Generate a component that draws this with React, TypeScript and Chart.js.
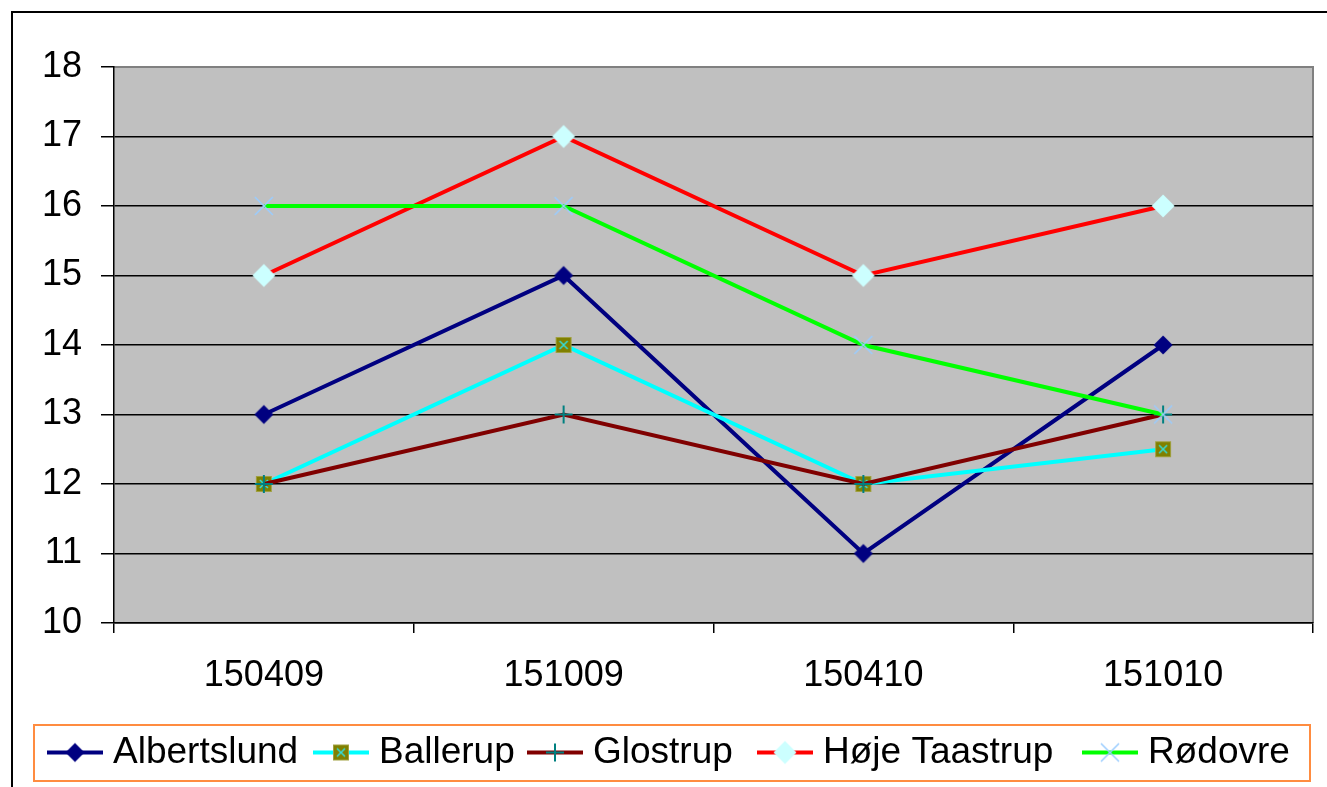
import React, { useEffect, useRef } from "react";
import { Chart, registerables } from "chart.js";

Chart.register(...registerables);

const categories = ["150409", "151009", "150410", "151010"];
const seriesNames = ["Albertslund", "Ballerup", "Glostrup", "Høje Taastrup", "Rødovre"];
const albertslund = [13, 15, 11, 14];
const ballerup = [12, 14, 12, 12.5];
const glostrup = [12, 13, 12, 13];
const hojeTaastrup = [15, 17, 15, 16];
const rodovre = [16, 16, 14, 13];
const yTicks = { min: 10, max: 18, step: 1 };

const lineColors = ["#000080", "#00FFFF", "#800000", "#FF0000", "#00FF00"];
const markerKinds = ["diamondNavy", "squareOlive", "plusTeal", "diamondLight", "xLightBlue"];
const legendStarts = [47, 313, 527, 757, 1082];

const FONT = 'Arial, "Liberation Sans", sans-serif';

function makeMarker(kind: string): HTMLCanvasElement {
  const c = document.createElement("canvas");
  c.width = 28;
  c.height = 28;
  const ctx = c.getContext("2d")!;
  const cx = 14;
  const cy = 14;
  if (kind === "diamondNavy" || kind === "diamondLight") {
    const h = kind === "diamondNavy" ? 9.5 : 11.5;
    ctx.beginPath();
    ctx.moveTo(cx, cy - h);
    ctx.lineTo(cx + h, cy);
    ctx.lineTo(cx, cy + h);
    ctx.lineTo(cx - h, cy);
    ctx.closePath();
    ctx.fillStyle = kind === "diamondNavy" ? "#000080" : "#CCFFFF";
    ctx.fill();
  } else if (kind === "squareOlive") {
    ctx.fillStyle = "#808000";
    ctx.fillRect(cx - 8, cy - 8, 16, 16);
    ctx.strokeStyle = "#A0A040";
    ctx.lineWidth = 1;
    ctx.strokeRect(cx - 7.5, cy - 7.5, 15, 15);
    ctx.strokeStyle = "#33DDDD";
    ctx.lineWidth = 1.5;
    ctx.beginPath();
    ctx.moveTo(cx - 4, cy - 4);
    ctx.lineTo(cx + 4, cy + 4);
    ctx.moveTo(cx + 4, cy - 4);
    ctx.lineTo(cx - 4, cy + 4);
    ctx.stroke();
  } else if (kind === "plusTeal") {
    ctx.strokeStyle = "#008080";
    ctx.lineWidth = 2;
    ctx.beginPath();
    ctx.moveTo(cx - 9, cy);
    ctx.lineTo(cx + 9, cy);
    ctx.moveTo(cx, cy - 9);
    ctx.lineTo(cx, cy + 9);
    ctx.stroke();
  } else if (kind === "xLightBlue") {
    ctx.strokeStyle = "#99CCFF";
    ctx.lineWidth = 1.5;
    ctx.beginPath();
    ctx.moveTo(cx - 9, cy - 9);
    ctx.lineTo(cx + 9, cy + 9);
    ctx.moveTo(cx + 9, cy - 9);
    ctx.lineTo(cx - 9, cy + 9);
    ctx.stroke();
  }
  return c;
}

export default function App() {
  const ref = useRef<HTMLCanvasElement | null>(null);

  useEffect(() => {
    if (!ref.current) return;
    const seriesValues = [albertslund, ballerup, glostrup, hojeTaastrup, rodovre];
    const markers = markerKinds.map(makeMarker);

    const framePlugin = {
      id: "excelFrame",
      beforeDraw(chart: any) {
        const { ctx, chartArea } = chart;
        ctx.save();
        ctx.fillStyle = "#FFFFFF";
        ctx.fillRect(0, 0, chart.width, chart.height);
        ctx.strokeStyle = "#000000";
        ctx.lineWidth = 2;
        ctx.beginPath();
        ctx.moveTo(12, chart.height + 2);
        ctx.lineTo(12, 12);
        ctx.lineTo(chart.width + 2, 12);
        ctx.stroke();
        ctx.fillStyle = "#C0C0C0";
        ctx.fillRect(chartArea.left, chartArea.top, chartArea.right - chartArea.left, chartArea.bottom - chartArea.top);
        ctx.strokeStyle = "#808080";
        ctx.lineWidth = 2;
        ctx.beginPath();
        ctx.moveTo(chartArea.left, chartArea.top);
        ctx.lineTo(chartArea.right, chartArea.top);
        ctx.lineTo(chartArea.right, chartArea.bottom);
        ctx.stroke();
        ctx.restore();
      },
      afterDraw(chart: any) {
        const { ctx } = chart;
        ctx.save();
        ctx.strokeStyle = "#FF8C40";
        ctx.lineWidth = 2;
        ctx.strokeRect(34, 725, 1276, 56);
        ctx.font = `37px ${FONT}`;
        ctx.textBaseline = "middle";
        ctx.textAlign = "left";
        const y = 752.5;
        seriesNames.forEach((name, i) => {
          const x = legendStarts[i];
          ctx.strokeStyle = lineColors[i];
          ctx.lineWidth = 4;
          ctx.lineCap = "butt";
          ctx.beginPath();
          ctx.moveTo(x, y);
          ctx.lineTo(x + 56, y);
          ctx.stroke();
          const m = markers[i];
          ctx.drawImage(m, x + 28 - m.width / 2, y - m.height / 2);
          ctx.fillStyle = "#000000";
          ctx.fillText(name, x + 66, y);
        });
        ctx.restore();
      },
    };

    const datasets = seriesNames.map((name, i) => ({
      label: name,
      data: seriesValues[i],
      borderColor: lineColors[i],
      backgroundColor: lineColors[i],
      borderWidth: 4,
      pointStyle: markers[i],
      pointRadius: 10,
      pointHoverRadius: 10,
      tension: 0,
      fill: false,
      order: seriesNames.length - i,
    }));

    const chart = new Chart(ref.current, {
      type: "line",
      data: { labels: categories, datasets },
      plugins: [framePlugin],
      options: {
        responsive: false,
        animation: false,
        events: [],
        layout: { padding: { left: 0, right: 14, top: 67, bottom: 0 } },
        plugins: {
          legend: { display: false },
          tooltip: { enabled: false },
          title: { display: false },
        },
        scales: {
          x: {
            offset: true,
            grid: {
              offset: true,
              drawOnChartArea: false,
              drawTicks: true,
              tickLength: 10,
              color: "#000000",
              lineWidth: 1.5,
            },
            border: { color: "#000000", width: 1.5 },
            ticks: {
              font: { family: FONT, size: 36, lineHeight: 1.2 },
              color: "#000000",
              padding: 21,
              maxRotation: 0,
              autoSkip: false,
            },
            afterFit: (s: any) => {
              s.height = 164;
            },
          },
          y: {
            min: yTicks.min,
            max: yTicks.max,
            ticks: {
              stepSize: yTicks.step,
              font: { family: FONT, size: 36 },
              color: "#000000",
              padding: 19,
            },
            grid: {
              color: (c: any) => (c.tick && c.tick.value === yTicks.max ? "#808080" : "#000000"),
              tickColor: "#000000",
              tickLength: 13,
              lineWidth: 1.5,
            },
            border: { color: "#000000", width: 1.5 },
            afterFit: (s: any) => {
              s.width = 114;
            },
          },
        },
      },
    } as any);

    return () => chart.destroy();
  }, []);

  return (
    <div style={{ position: "absolute", left: 0, top: 0, width: 1327, height: 787 }}>
      <canvas ref={ref} width={1327} height={787} style={{ display: "block" }} />
    </div>
  );
}
